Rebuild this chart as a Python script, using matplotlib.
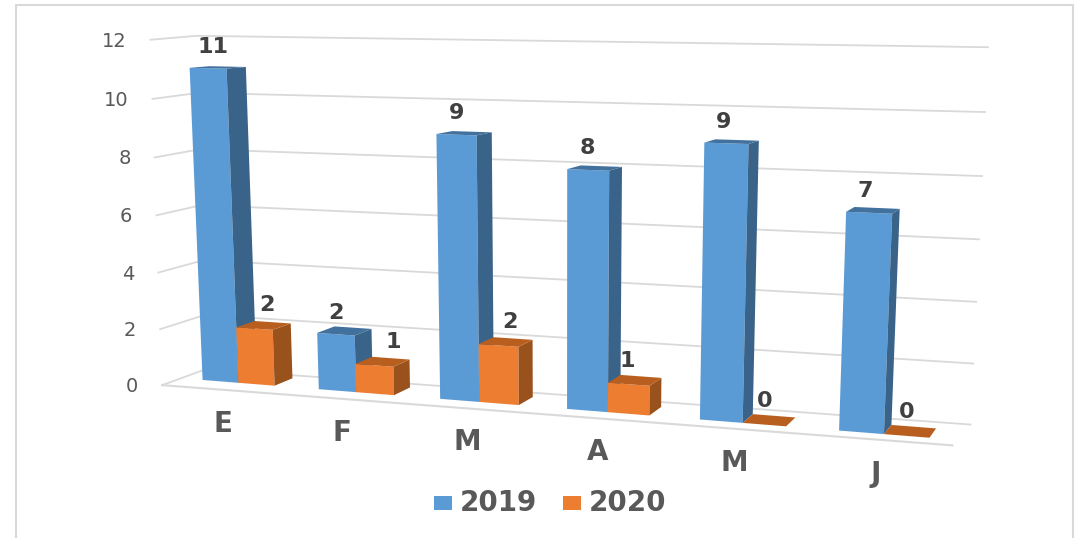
import matplotlib
matplotlib.use('Agg')
import matplotlib.pyplot as plt
import numpy as np
from matplotlib.patches import Polygon

plt.rcParams['font.family'] = ['DejaVu Sans']

categories = ['E', 'F', 'M', 'A', 'M', 'J']
values_2019 = [11, 2, 9, 8, 9, 7]
values_2020 = [2, 1, 2, 1, 0, 0]
y_ticks = [0, 2, 4, 6, 8, 10, 12]

BLUE = ('#5b9bd5', '#41719c', '#3a6389')
ORANGE = ('#ed7d31', '#b85f20', '#9a521d')
GRID = '#d9d9d9'
PITCH = 3.2  # category spacing, in bar widths

# wall camera: (category, value, depth) -> picture pixel
wall_world = [
    (0, 0, 0), (6, 0, 0), (0, 12, 0), (0, 0, 1), (6, 0, 1), (0, 12, 1), (6, 12, 1),
    (0, 2, 0), (0, 4, 0), (0, 6, 0), (0, 8, 0), (0, 10, 0),
    (6, 2, 1), (6, 4, 1), (6, 6, 1), (6, 8, 1), (6, 10, 1),
]
wall_px = [
    (164, 384), (952, 448), (148, 40), (203, 371), (971, 423), (200, 36), (988, 48),
    (162, 329), (159, 272), (157, 215), (154, 157), (151, 99),
    (973, 363), (976, 301), (979, 239), (982, 176), (985, 112),
]

# bar camera: (bar widths, value, bar depth) -> picture pixel
base_px = [(203, 380), (319, 389), (441, 399), (568, 409), (702, 420), (840, 431)]
top_px = [(190, 68), (318, 334), (437, 134), (567, 169), (704, 143), (847, 212)]
top_right_px = [(226, 69), None, (476, 135), (609, 170), (748, 144), (892, 213)]
top_back_px = [(246, 67), None, (492, 132), (622, 167), (759, 141), (900, 209)]
bar_world, bar_px = [], []
for i in range(6):
    bar_world.append((i * PITCH, 0, 0))
    bar_px.append(base_px[i])
    bar_world.append((i * PITCH, values_2019[i], 0))
    bar_px.append(top_px[i])
    if top_right_px[i]:
        bar_world.append((i * PITCH + 1, values_2019[i], 0))
        bar_px.append(top_right_px[i])
        bar_world.append((i * PITCH + 1, values_2019[i], 1))
        bar_px.append(top_back_px[i])
bar_world += [(2, 0, 0), (2, 0, 1), (2 * PITCH + 2, 0, 0), (2 * PITCH + 2, 0, 1),
              (3 * PITCH + 2, 0, 0), (3 * PITCH + 2, 0, 1), (4 * PITCH + 2, 0, 0), (4 * PITCH + 2, 0, 1),
              (5 * PITCH + 2, 0, 0), (5 * PITCH + 2, 0, 1)]
bar_px += [(273, 385), (292, 378), (518, 405), (533, 397), (649, 415), (661, 407),
           (784, 426), (795, 418), (929, 438), (936, 428)]


def fit_camera(w, p):
    rows, rhs = [], []
    for (x, y, z), (u, v) in zip(w, p):
        rows.append([x, y, z, 1, 0, 0, 0, 0, -u * x, -u * y, -u * z])
        rows.append([0, 0, 0, 0, x, y, z, 1, -v * x, -v * y, -v * z])
        rhs += [u, v]
    sol = np.linalg.lstsq(np.array(rows), np.array(rhs), rcond=None)[0]
    return np.append(sol, 1).reshape(3, 4)


WALL_CAM = fit_camera(wall_world, wall_px)
BAR_CAM = fit_camera(bar_world, bar_px)


def proj(x, y, z, cam=BAR_CAM):
    u, v, w = cam @ np.array([x, y, z, 1.0])
    return u / w, v / w


def draw_bar(ax, x0, h, colors):
    front, top, side = colors
    x1 = x0 + 1
    if h > 0:
        ax.add_patch(Polygon([proj(x0, 0, 0), proj(x1, 0, 0), proj(x1, h, 0), proj(x0, h, 0)],
                             fc=front, ec='none', zorder=3))
        ax.add_patch(Polygon([proj(x1, 0, 0), proj(x1, 0, 1), proj(x1, h, 1), proj(x1, h, 0)],
                             fc=side, ec='none', zorder=3))
    ax.add_patch(Polygon([proj(x0, h, 0), proj(x1, h, 0), proj(x1, h, 1), proj(x0, h, 1)],
                         fc=top, ec='none', zorder=3))


fig = plt.figure(figsize=(10.81, 5.38), dpi=100)
ax = fig.add_axes([0, 0, 1, 1])
ax.set_xlim(0, 1081)
ax.set_ylim(538, 0)
ax.axis('off')

# outer frame
ax.plot([16, 16, 1073, 1073], [538, 4.5, 4.5, 538], color=GRID, lw=1.5)

# walls and floor
for t in y_ticks:
    pts = [proj(0, t, 0, WALL_CAM), proj(0, t, 1, WALL_CAM), proj(6, t, 1, WALL_CAM)]
    ax.plot(*zip(*pts), color=GRID, lw=1.3, zorder=1)
    u, v = proj(0, t, 0, WALL_CAM)
    ax.text(u - 24, v + 1.5, str(t), ha='right', va='center', fontsize=14, color='#595959')
ax.plot(*zip(proj(0, 0, 0, WALL_CAM), proj(6, 0, 0, WALL_CAM)), color=GRID, lw=1.5, zorder=1)

nudge_2019 = [5, 0, 0, -1, -3, -4]
nudge_2020 = [12, 19, 11, -2, 0, 0]
nudge_cat = [2, 1, 1, 0, -1, -3]

for i, cat in enumerate(categories):
    x0 = i * PITCH
    draw_bar(ax, x0, values_2019[i], BLUE)
    draw_bar(ax, x0 + 1, values_2020[i], ORANGE)

    u, v = proj(x0 + 0.5, values_2019[i], 0)
    ax.text(u + nudge_2019[i], v - 21.5, str(values_2019[i]), ha='center', va='center',
            fontsize=16, fontweight='bold', color='#404040', zorder=4)
    u, v = proj(x0 + 1.5, values_2020[i], 0)
    ax.text(u + nudge_2020[i], v - 23.5, str(values_2020[i]), ha='center', va='center',
            fontsize=16, fontweight='bold', color='#404040', zorder=4)

    u, v = proj(i + 0.5, 0, 0, WALL_CAM)
    ax.text(u + nudge_cat[i], v + 34, cat, ha='center', va='center', fontsize=20, fontweight='bold', color='#595959')

# legend
ax.add_patch(Polygon([(434, 496), (452, 496), (452, 510), (434, 510)], fc=BLUE[0], ec='none'))
ax.add_patch(Polygon([(563, 496), (581, 496), (581, 510), (563, 510)], fc=ORANGE[0], ec='none'))
ax.text(460, 503, '2019', ha='left', va='center', fontsize=20, fontweight='bold', color='#595959')
ax.text(589, 503, '2020', ha='left', va='center', fontsize=20, fontweight='bold', color='#595959')

fig.savefig('out.png', dpi=100)
